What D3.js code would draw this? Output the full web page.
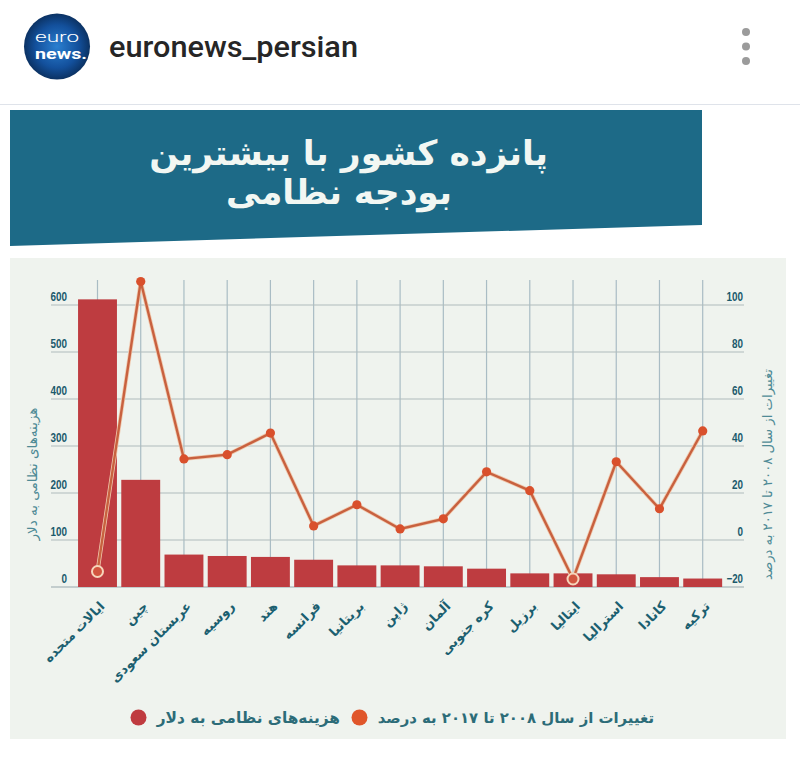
<!DOCTYPE html>
<html lang="fa"><head><meta charset="utf-8">
<script src="https://cdn.jsdelivr.net/npm/d3@7"></script>
<style>
html,body{margin:0;padding:0;background:#fff}
svg{display:block}
text{font-family:"DejaVu Sans",sans-serif}
.num text{font-family:"Liberation Sans",sans-serif;font-weight:700;font-size:12.5px;fill:#1b5a6c}
</style></head><body>
<svg id="c" width="800" height="764"></svg>
<script>
const countries = ["ایالات متحده","چین","عربستان سعودی","روسیه","هند","فرانسه","بریتانیا","ژاپن","آلمان","کره جنوبی","برزیل","ایتالیا","استرالیا","کانادا","ترکیه"];
const spending = [612,228,69,66,64,58,46,46,44,39,29,29,27,21,18];
const change = [-13.4,110,34.5,36.3,45.5,6,15,4.7,9,29,21,-16.6,33.3,13.3,46.4];
const hollowMarkers = ["ایالات متحده","ایتالیا"];
const spendingTicks = [0,100,200,300,400,500,600];
const changeTicks = [-20,0,20,40,60,80,100];
const titleLines = ["پانزده کشور با بیشترین","بودجه نظامی"];
const spendingLabel = "هزینه‌های نظامی به دلار";
const changeLabel = "تغییرات از سال ۲۰۰۸ تا ۲۰۱۷ به درصد";
const account = "euronews_persian";

const svg = d3.select("#c");
const plotLeft=76, plotRight=724.5, base=587, plotTop=305;
const step=(702.7-97.5)/14;
const x=d3.scaleBand().domain(countries).range([97.5-step/2,97.5-step/2+step*15]).paddingInner(0.1).paddingOuter(0.05);
const y=d3.scaleLinear().domain([0,600]).range([base,plotTop]);
const y2=d3.scaleLinear().domain([-20,100]).range([base,plotTop]);
const cx=c=>x(c)+x.bandwidth()/2;
const narrow=function(){const t=this.textContent;return (t.replace("-","").length*5.5)+(t.startsWith("-")?3.5:0);};

// page header
const defs=svg.append("defs");
const g=defs.append("radialGradient").attr("id","logo");
g.append("stop").attr("offset","0%").attr("stop-color","#2a7fd0");
g.append("stop").attr("offset","65%").attr("stop-color","#13509c");
g.append("stop").attr("offset","100%").attr("stop-color","#0b3263");
svg.append("circle").attr("cx",57).attr("cy",46.5).attr("r",33).attr("fill","url(#logo)");
svg.append("text").attr("x",57).attr("y",42).attr("text-anchor","middle").attr("fill","#fff").attr("font-size",14).style("font-family","Roboto").style("font-weight",300).attr("textLength",44).attr("lengthAdjust","spacingAndGlyphs").text("euro");
svg.append("text").attr("x",61).attr("y",59).attr("text-anchor","middle").attr("fill","#fff").attr("font-size",14).style("font-family","Roboto").style("font-weight",700).attr("textLength",52).attr("lengthAdjust","spacingAndGlyphs").text("news.");
svg.append("text").attr("x",109).attr("y",57).attr("fill","#262626").attr("font-size",29).style("font-family","Roboto").style("font-weight",500).attr("textLength",249).attr("lengthAdjust","spacingAndGlyphs").text(account);
svg.selectAll(".dot").data([32,46.5,61]).join("circle").attr("cx",746).attr("cy",d=>d).attr("r",4).attr("fill","#9b9b9b");
svg.append("line").attr("x1",0).attr("x2",800).attr("y1",104.5).attr("y2",104.5).attr("stroke","#dfe3ea");

// banner
svg.append("polygon").attr("points","10,110 702,110 702,225 10,246").attr("fill","#1d6a87");
svg.selectAll(".title").data(titleLines).join("text").attr("class","title")
  .attr("x",(d,i)=>[348.5,339][i]).attr("y",(d,i)=>[165,204][i]).attr("text-anchor","middle")
  .attr("fill","#f2f7f3").attr("font-size",34.5).attr("font-weight",700).text(d=>d);

// chart panel
svg.append("rect").attr("x",10).attr("y",258).attr("width",776).attr("height",481).attr("fill","#eff3ee");

// grid
svg.append("g").selectAll("line").data(countries).join("line")
  .attr("x1",cx).attr("x2",cx).attr("y1",280).attr("y2",base).attr("stroke","#a9bcc4").attr("stroke-width",1.2);

const axL=svg.append("g").attr("class","num").attr("transform",`translate(${plotLeft},0)`)
  .call(d3.axisLeft(y).tickValues(spendingTicks).tickSize(0).tickPadding(9));
axL.select(".domain").remove();
axL.selectAll("text").attr("dy","-5").attr("text-anchor","end").attr("textLength",narrow).attr("lengthAdjust","spacingAndGlyphs");
svg.append("g").selectAll("line").data(spendingTicks).join("line")
  .attr("x1",51).attr("x2",744).attr("y1",d=>y(d)).attr("y2",d=>y(d))
  .attr("stroke",d=>d===0?"#98a8ab":"#b0bcbb").attr("stroke-width",1.2);

const axR=svg.append("g").attr("class","num").attr("transform",`translate(${plotRight},0)`)
  .call(d3.axisRight(y2).tickValues(changeTicks).tickSize(0).tickPadding(18.5));
axR.select(".domain").remove();
axR.selectAll("text").attr("dy","-5").attr("text-anchor","end").attr("textLength",narrow).attr("lengthAdjust","spacingAndGlyphs");

// bars
svg.append("g").selectAll("rect").data(countries).join("rect")
  .attr("x",c=>x(c)).attr("width",x.bandwidth())
  .attr("y",(c,i)=>y(spending[i])).attr("height",(c,i)=>base-y(spending[i]))
  .attr("fill","#be3c40");

// line
const line=d3.line().x(d=>cx(d.c)).y(d=>y2(d.v));
const pts=countries.map((c,i)=>({c,v:change[i]}));
svg.append("path").datum(pts).attr("d",line).attr("fill","none").attr("stroke","#f0c9ae").attr("stroke-width",4);
svg.append("path").datum(pts).attr("d",line).attr("fill","none").attr("stroke","#c8613f").attr("stroke-width",2.4);
svg.append("g").selectAll("circle").data(pts).join("circle")
  .attr("cx",d=>cx(d.c)).attr("cy",d=>y2(d.v))
  .attr("r",d=>hollowMarkers.includes(d.c)?5.5:4.6)
  .attr("fill",d=>hollowMarkers.includes(d.c)?"#d2553f":"#d9502c")
  .attr("stroke",d=>hollowMarkers.includes(d.c)?"#f6d5bb":"none")
  .attr("stroke-width",2);

// category labels
const axB=svg.append("g").attr("transform",`translate(0,${base})`).call(d3.axisBottom(x).tickSize(0));
axB.select(".domain").remove();
axB.selectAll("text")
  .attr("text-anchor","end").attr("y",0).attr("dy",0)
  .attr("transform","translate(8,20) rotate(-45)")
  .attr("fill","#1b5f70").attr("font-size",13).attr("font-weight",700)
  .style("font-family","'DejaVu Sans'");

// axis titles
svg.append("text").attr("transform","translate(37,474) rotate(-90)").attr("text-anchor","middle")
  .attr("fill","#4f8b96").attr("font-size",13.5).text(spendingLabel);
svg.append("text").attr("transform","translate(772,474.5) rotate(-90)").attr("text-anchor","middle")
  .attr("fill","#4f8b96").attr("font-size",13.2).text(changeLabel);

// legend
svg.append("circle").attr("cx",138.5).attr("cy",717.5).attr("r",8).attr("fill","#bf3b3f");
svg.append("text").attr("x",340).attr("y",723).attr("text-anchor","end").attr("fill","#2c6c78").attr("font-size",15.4).attr("font-weight",700).text(spendingLabel);
svg.append("circle").attr("cx",359.5).attr("cy",717.5).attr("r",8).attr("fill","#e0562a");
svg.append("text").attr("x",654).attr("y",723).attr("text-anchor","end").attr("fill","#2c6c78").attr("font-size",14.9).attr("font-weight",700).text(changeLabel);
</script></body></html>
